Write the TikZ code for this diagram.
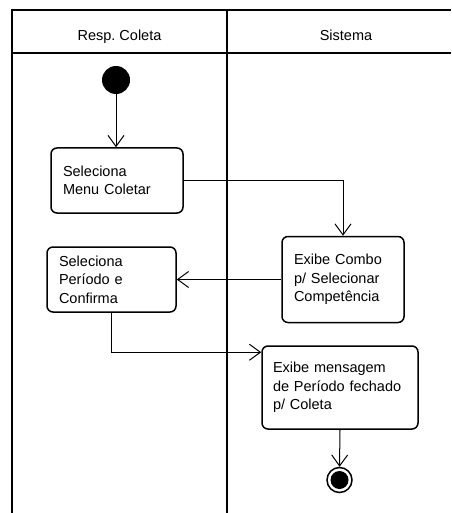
\documentclass[tikz,border=0pt]{standalone}
\usepackage{fontspec}
\setmainfont{Liberation Sans}
\usetikzlibrary{arrows.meta, calc, positioning}
\frenchspacing

\tikzset{
  lane/.style={line width=2pt},
  action/.style={draw, line width=1.5pt, rounded corners=6pt, align=left,
    inner xsep=12pt, inner ysep=0pt, font=\fontsize{14.5}{18.5}\selectfont},
  flow/.style={line width=1pt, -{Straight Barb[length=11pt,width=16pt,line width=1pt]}},
  lanetitle/.style={anchor=base, font=\fontsize{14.5}{18}\selectfont}
}

\begin{document}
\begin{tikzpicture}[x=1pt,y=-1pt]

\useasboundingbox (0,0) rectangle (451,513);

%swimlanes:
\draw[lane] (12,513) -- (12,10) -- (451,10);
\draw[lane] (12,53) -- (451,53);
\draw[lane] (227,10) -- (227,513);
\node[lanetitle] (laneresp) at (119.5,41) {Resp. Coleta};
\node[lanetitle] (lanesis) at (346,41) {Sistema};

%start
\node[circle, fill=black, minimum size=28pt, inner sep=0pt] (init) at (116,80) {};

%actions
\node[action, text width=108pt, minimum height=65pt] (menu) at (117,180.5)
  {Seleciona\\Menu Coletar};
\node[action, text width=98pt, minimum height=86pt] (combo) at (343,279.5)
  {Exibe Combo\\p/ Selecionar\\Competência};
\node[action, text width=105pt, minimum height=65pt] (periodo) at (111.5,279.5)
  {Seleciona\\Período e\\Confirma};
\node[action, text width=134pt, inner xsep=11pt, minimum height=83pt] (msg) at (340,387.5)
  {Exibe mensagem\\de Período fechado\\p/ Coleta};

%end
\node[circle, draw, line width=1.5pt, minimum size=25pt, inner sep=0pt] (final) at (339.5,480) {};
\fill (final) circle (9);

\coordinate (msgin) at ($(msg.north west)+(0,7)$);

%flows
\draw[flow] (init.south) -- (init.south |- menu.north);
\draw[flow] (menu.east) -| (combo.north);
\draw[flow] (combo.west) -- (combo.west -| periodo.east);
\draw[flow] (periodo.south) |- (msgin);
\draw[flow] (msg.south) -- (final.north);

\end{tikzpicture}
\end{document}
